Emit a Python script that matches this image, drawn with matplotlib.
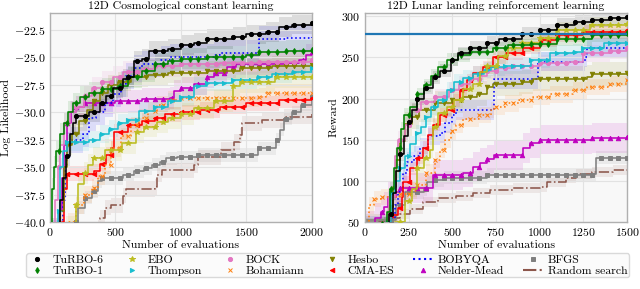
import numpy as np
import matplotlib
matplotlib.use("Agg")
import matplotlib.pyplot as plt
from matplotlib.lines import Line2D

plt.rcParams["font.family"] = ["cmr10", "DejaVu Serif"]
plt.rcParams["mathtext.fontset"] = "cm"
plt.rcParams["axes.formatter.use_mathtext"] = True
plt.rcParams["axes.unicode_minus"] = True

# ── Data (step curves: evaluation, best value) ──────────────────────────────

methods = ["TuRBO-6", "TuRBO-1", "EBO", "Thompson", "BOCK", "Bohamiann",
           "Hesbo", "CMA-ES", "BOBYQA", "Nelder-Mead", "BFGS", "Random search"]

# 12D cosmological constant learning (log likelihood)
cosmo_turbo6 = [(0, -40.5), (80, -38), (100, -36), (120, -34), (150, -32), (180, -31), (200, -30.3),
                (300, -30.0), (380, -29.2), (430, -28.5), (480, -27.8), (560, -27.0), (600, -26.8),
                (640, -25.3), (700, -25.1), (760, -24.4), (900, -24.2), (1000, -23.9), (1100, -23.7),
                (1200, -23.3), (1400, -23.1), (1500, -22.9), (1650, -22.7), (1750, -22.2),
                (1850, -22.0), (2000, -21.9)]
cosmo_turbo1 = [(0, -40.5), (15, -37), (30, -35), (50, -33.5), (80, -32), (110, -31), (140, -30),
                (180, -29.2), (230, -28.6), (300, -28.2), (400, -27.9), (520, -27.6), (600, -26.8),
                (700, -26.2), (800, -25.6), (900, -25.3), (1000, -25.1), (1200, -25.0), (1500, -24.8),
                (1600, -24.5), (1800, -24.4), (2000, -24.3)]
cosmo_ebo = [(0, -41), (120, -40.5), (200, -38.5), (215, -36.5), (260, -35.5), (290, -34.8),
             (330, -34.2), (420, -33.4), (550, -32.8), (660, -31.8), (720, -31.3), (820, -30.9),
             (900, -30.5), (1000, -30.2), (1100, -29.6), (1250, -29.0), (1396, -27.6), (1450, -27.2),
             (1720, -26.8), (2000, -26.8)]
cosmo_thompson = [(0, -41), (60, -39), (80, -35), (100, -33.5), (130, -32.7), (300, -32.5),
                  (380, -32.0), (450, -31.5), (520, -31.0), (600, -30.7), (680, -29.9), (800, -29.5),
                  (900, -29.0), (1000, -28.6), (1100, -27.6), (1200, -27.3), (1400, -27.1),
                  (1580, -26.8), (1700, -26.5), (1850, -26.3), (2000, -26.0)]
cosmo_bock = [(0, -41), (40, -38), (60, -35), (80, -33), (110, -31), (150, -30), (200, -29.5),
              (260, -28.5), (320, -27.8), (400, -27.2), (480, -26.8), (560, -26.3), (700, -26.1),
              (800, -25.8), (1000, -25.6), (1300, -25.5), (1600, -25.4), (2000, -25.2)]
cosmo_bohamiann = [(0, -41), (140, -40), (200, -38.5), (260, -37.5), (320, -36.9), (370, -35.8),
                   (420, -34.8), (470, -33.3), (540, -32.2), (620, -31.2), (680, -30.5), (750, -29.9),
                   (820, -29.3), (900, -28.9), (1000, -28.7), (1600, -28.6), (1650, -28.2),
                   (2000, -28.2)]
cosmo_hesbo = [(0, -41), (80, -39), (110, -35), (130, -33), (170, -32), (220, -30.8), (280, -29.8),
               (330, -29.0), (380, -28.2), (440, -27.5), (520, -27.2), (620, -26.8), (750, -26.6),
               (900, -26.4), (1200, -26.2), (1450, -26.0), (1700, -25.8), (2000, -25.7)]
cosmo_cmaes = [(0, -41), (90, -40), (110, -37), (130, -35.6), (340, -35.4), (380, -34.7),
               (430, -33.9), (470, -33.3), (490, -31.8), (600, -31.2), (700, -30.8), (800, -30.5),
               (880, -30.2), (1000, -30.0), (1150, -29.8), (1300, -29.5), (1500, -29.2),
               (1750, -28.9), (2000, -28.7)]
cosmo_bobyqa = [(0, -41), (100, -38), (115, -35), (130, -33), (160, -32.5), (250, -32.0),
                (300, -30.5), (350, -30.0), (420, -29.2), (480, -28.3), (540, -27.4), (580, -26.7),
                (640, -26.0), (700, -25.6), (850, -25.2), (920, -25.0), (1250, -24.8), (1300, -24.6),
                (1580, -24.5), (1600, -23.3), (1800, -23.2), (2000, -23.1)]
cosmo_neldermead = [(0, -41), (70, -39), (90, -36), (110, -33), (130, -31), (160, -30), (200, -29.5),
                    (260, -29.2), (500, -29.0), (700, -28.8), (920, -28.7), (950, -28.1),
                    (1000, -27.8), (1100, -27.4), (1200, -26.8), (1250, -26.4), (1350, -25.9),
                    (1420, -25.6), (1800, -25.5), (1900, -25.2), (1960, -24.8), (2000, -24.5)]
cosmo_bfgs = [(0, -41), (200, -40), (215, -38.7), (265, -37.8), (320, -37.2), (365, -36.3),
              (400, -36.0), (560, -35.7), (640, -35.4), (720, -35.1), (780, -34.8), (840, -34.5),
              (890, -34.2), (970, -34.1), (1130, -33.9), (1590, -33.3), (1730, -32.5),
              (1760, -31.6), (1790, -30.6), (1850, -30.0), (1920, -29.3), (2000, -28.6)]
cosmo_random = [(0, -41), (370, -40.5), (380, -39.6), (420, -38.7), (470, -38.5), (560, -37.6),
                (580, -37.0), (800, -36.8), (820, -35.7), (860, -35.3), (1100, -34.8),
                (1130, -34.1), (1310, -33.4), (1410, -32.7), (1450, -32.1), (1465, -31.0),
                (1620, -30.7), (1790, -30.4), (2000, -30.2)]

# 12D lunar landing reinforcement learning (reward)
lunar_turbo6 = [(0, 45), (110, 48), (140, 60), (160, 85), (180, 112), (200, 132), (225, 155),
                (245, 172), (270, 186), (300, 200), (340, 213), (390, 226), (430, 234), (490, 247),
                (530, 255), (600, 262), (700, 268), (770, 272), (900, 279), (1000, 283), (1100, 290),
                (1200, 293), (1300, 295), (1400, 298), (1500, 299)]
lunar_turbo1 = [(0, 45), (95, 48), (125, 62), (145, 90), (165, 115), (185, 140), (205, 163),
                (225, 180), (260, 190), (300, 205), (340, 216), (380, 228), (420, 238), (470, 247),
                (530, 253), (600, 256), (730, 261), (820, 265), (950, 266), (1100, 272),
                (1300, 277), (1500, 280)]
lunar_ebo = [(0, 45), (170, 50), (230, 75), (270, 90), (300, 115), (340, 128), (370, 138),
             (390, 165), (420, 182), (470, 190), (510, 198), (560, 212), (620, 218), (660, 232),
             (700, 240), (760, 252), (820, 262), (900, 267), (1000, 274), (1100, 283), (1290, 289),
             (1500, 291)]
lunar_thompson = [(0, 45), (120, 50), (150, 85), (175, 100), (200, 115), (230, 130), (260, 145),
                  (290, 158), (320, 165), (350, 178), (380, 190), (420, 198), (470, 210), (510, 220),
                  (560, 225), (620, 230), (680, 235), (720, 238), (800, 240), (950, 247),
                  (1060, 255), (1190, 256), (1250, 262), (1365, 267), (1500, 268)]
lunar_bock = [(0, 45), (100, 48), (140, 80), (170, 130), (190, 150), (230, 168), (260, 186),
              (320, 196), (400, 202), (480, 210), (540, 218), (600, 224), (660, 228), (700, 234),
              (760, 237), (850, 240), (1000, 243), (1170, 245), (1250, 255), (1400, 258),
              (1500, 262)]
lunar_bohamiann = [(0, 45), (25, 70), (50, 78), (90, 80), (200, 84), (260, 88), (300, 95),
                   (350, 110), (400, 125), (430, 138), (460, 150), (490, 160), (520, 168),
                   (560, 175), (650, 180), (720, 186), (740, 190), (800, 194), (880, 198),
                   (960, 202), (1060, 205), (1190, 210), (1270, 214), (1400, 218), (1500, 222)]
lunar_hesbo = [(0, 45), (120, 50), (140, 68), (160, 92), (180, 125), (200, 149), (230, 169),
               (270, 178), (310, 186), (400, 194), (500, 198), (560, 202), (640, 206), (700, 214),
               (730, 218), (900, 220), (960, 224), (1270, 226), (1300, 230), (1500, 231)]
lunar_cmaes = [(0, 45), (130, 48), (150, 58), (190, 67), (210, 80), (220, 98), (258, 115),
               (298, 128), (332, 140), (363, 156), (390, 168), (430, 180), (470, 186), (507, 198),
               (545, 210), (583, 222), (620, 231), (676, 238), (733, 250), (810, 255), (905, 262),
               (1000, 271), (1100, 277), (1250, 281), (1500, 283)]
lunar_bobyqa = [(0, 45), (140, 55), (170, 70), (190, 86), (220, 110), (240, 123), (280, 130),
                (315, 140), (360, 155), (430, 158), (460, 170), (500, 180), (520, 186), (730, 186),
                (740, 224), (975, 224), (990, 245), (1260, 250), (1270, 262), (1500, 263)]
lunar_neldermead = [(0, 45), (60, 55), (90, 62), (110, 68), (130, 80), (180, 86), (200, 91),
                    (390, 107), (560, 110), (620, 117), (660, 122), (700, 126), (740, 131),
                    (890, 131), (906, 140), (945, 146), (1000, 150), (1250, 150), (1300, 152),
                    (1500, 153)]
lunar_bfgs = [(0, 45), (120, 52), (180, 70), (230, 86), (340, 90), (355, 98), (400, 101),
              (450, 104), (700, 107), (1310, 108), (1320, 128), (1500, 128)]
lunar_random = [(0, 45), (80, 50), (150, 55), (200, 60), (260, 66), (330, 74), (420, 79),
                (520, 82), (620, 85), (716, 89), (850, 91), (1000, 93), (1040, 98), (1150, 103),
                (1210, 108), (1300, 111), (1420, 113), (1500, 113)]

# half-width of the shaded error band per method
cosmo_band = [0.9, 1.0, 1.0, 0.8, 1.0, 0.8, 0.9, 0.7, 1.2, 1.0, 0.6, 0.7]
lunar_band = [8, 8, 10, 10, 10, 10, 15, 8, 12, 18, 8, 6]

lunar_target = 279

cosmo_series = [cosmo_turbo6, cosmo_turbo1, cosmo_ebo, cosmo_thompson, cosmo_bock, cosmo_bohamiann,
                cosmo_hesbo, cosmo_cmaes, cosmo_bobyqa, cosmo_neldermead, cosmo_bfgs, cosmo_random]
lunar_series = [lunar_turbo6, lunar_turbo1, lunar_ebo, lunar_thompson, lunar_bock, lunar_bohamiann,
                lunar_hesbo, lunar_cmaes, lunar_bobyqa, lunar_neldermead, lunar_bfgs, lunar_random]

# ── Style ─────────────────────────────────────────────────────────────────────

colors = ["black", "green", "#bcbd22", "#17becf", "#e377c2", "#ff7f0e",
          "olive", "red", "blue", "m", "#7f7f7f", "#8c564b"]
markers = ["o", "d", "*", ">", "o", "x", "v", "<", None, "^", "s", None]
linestyles = ["-", "-", "-", "-", "-", ":", "-", "-", ":", "-", "-", "-."]
msizes = [3.0, 3.0, 4.0, 3.0, 3.0, 3.2, 3.2, 3.2, 0, 3.2, 2.8, 0]


def draw_panel(ax, series, bands, n_evals, n_marks):
    mark_x = np.linspace(0, n_evals, n_marks + 1)[1:]
    for i in reversed(range(len(series))):
        xs = np.array([p[0] for p in series[i]], dtype=float)
        ys = np.array([p[1] for p in series[i]], dtype=float)
        z = 20 - i
        ax.fill_between(xs, ys - bands[i], ys + bands[i], step="post",
                        color=colors[i], alpha=0.11, lw=0, zorder=z - 20)
        ax.step(xs, ys, where="post", color=colors[i], ls=linestyles[i], lw=1.15, zorder=z)
        if markers[i] is not None:
            idx = np.searchsorted(xs, mark_x, side="right") - 1
            ax.plot(mark_x, ys[idx], ls="none", marker=markers[i], ms=msizes[i],
                    color=colors[i], mew=0.7, zorder=z)


def style_axes(ax):
    ax.set_facecolor("#f8f8f8")
    ax.grid(True, color="#e2e2e2", lw=0.8)
    ax.set_axisbelow(True)
    for s in ax.spines.values():
        s.set_color("#b0b0b0")
        s.set_linewidth(1.0)
    ax.tick_params(length=0, labelsize=8.5, pad=3)


fig = plt.figure(figsize=(6.4, 2.89), dpi=100)
ax1 = fig.add_axes([0.078, 0.232, 0.409, 0.723])
ax2 = fig.add_axes([0.570, 0.232, 0.410, 0.723])

draw_panel(ax1, cosmo_series, cosmo_band, 2000, 30)
ax1.set_xlim(0, 2000)
ax1.set_ylim(-40, -20.95)
ax1.set_xticks([0, 500, 1000, 1500, 2000])
ax1.set_yticks([-40, -37.5, -35, -32.5, -30, -27.5, -25, -22.5])
ax1.set_title("12D Cosmological constant learning", fontsize=8.5, pad=3)
ax1.set_xlabel("Number of evaluations", fontsize=8.5, labelpad=2)
ax1.set_ylabel("Log Likelihood", fontsize=8.5, labelpad=2)
style_axes(ax1)

draw_panel(ax2, lunar_series, lunar_band, 1500, 30)
ax2.axhline(lunar_target, color="#1f77b4", lw=1.6, zorder=25)
ax2.set_xlim(0, 1500)
ax2.set_ylim(50, 304)
ax2.set_xticks([0, 250, 500, 750, 1000, 1250, 1500])
ax2.set_yticks([50, 100, 150, 200, 250, 300])
ax2.set_title("12D Lunar landing reinforcement learning", fontsize=8.5, pad=3)
ax2.set_xlabel("Number of evaluations", fontsize=8.5, labelpad=2)
ax2.set_ylabel("Reward", fontsize=8.5, labelpad=2)
style_axes(ax2)

handles = []
for i, name in enumerate(methods):
    if markers[i] is None:
        handles.append(Line2D([], [], color=colors[i], ls=linestyles[i], lw=1.5))
    else:
        handles.append(Line2D([], [], color=colors[i], ls="none", marker=markers[i],
                              ms=msizes[i], mew=0.7))
leg = fig.legend(handles, methods, loc="lower center", bbox_to_anchor=(0.512, 0.02), ncol=6,
                 fontsize=8.5, frameon=True, handlelength=1.6, handletextpad=0.5,
                 columnspacing=1.6, borderpad=0.12, labelspacing=0.05)
leg.get_frame().set_edgecolor("#d0d0d0")
leg.get_frame().set_facecolor("#fbfbfb")

fig.savefig("out.png", dpi=100)
